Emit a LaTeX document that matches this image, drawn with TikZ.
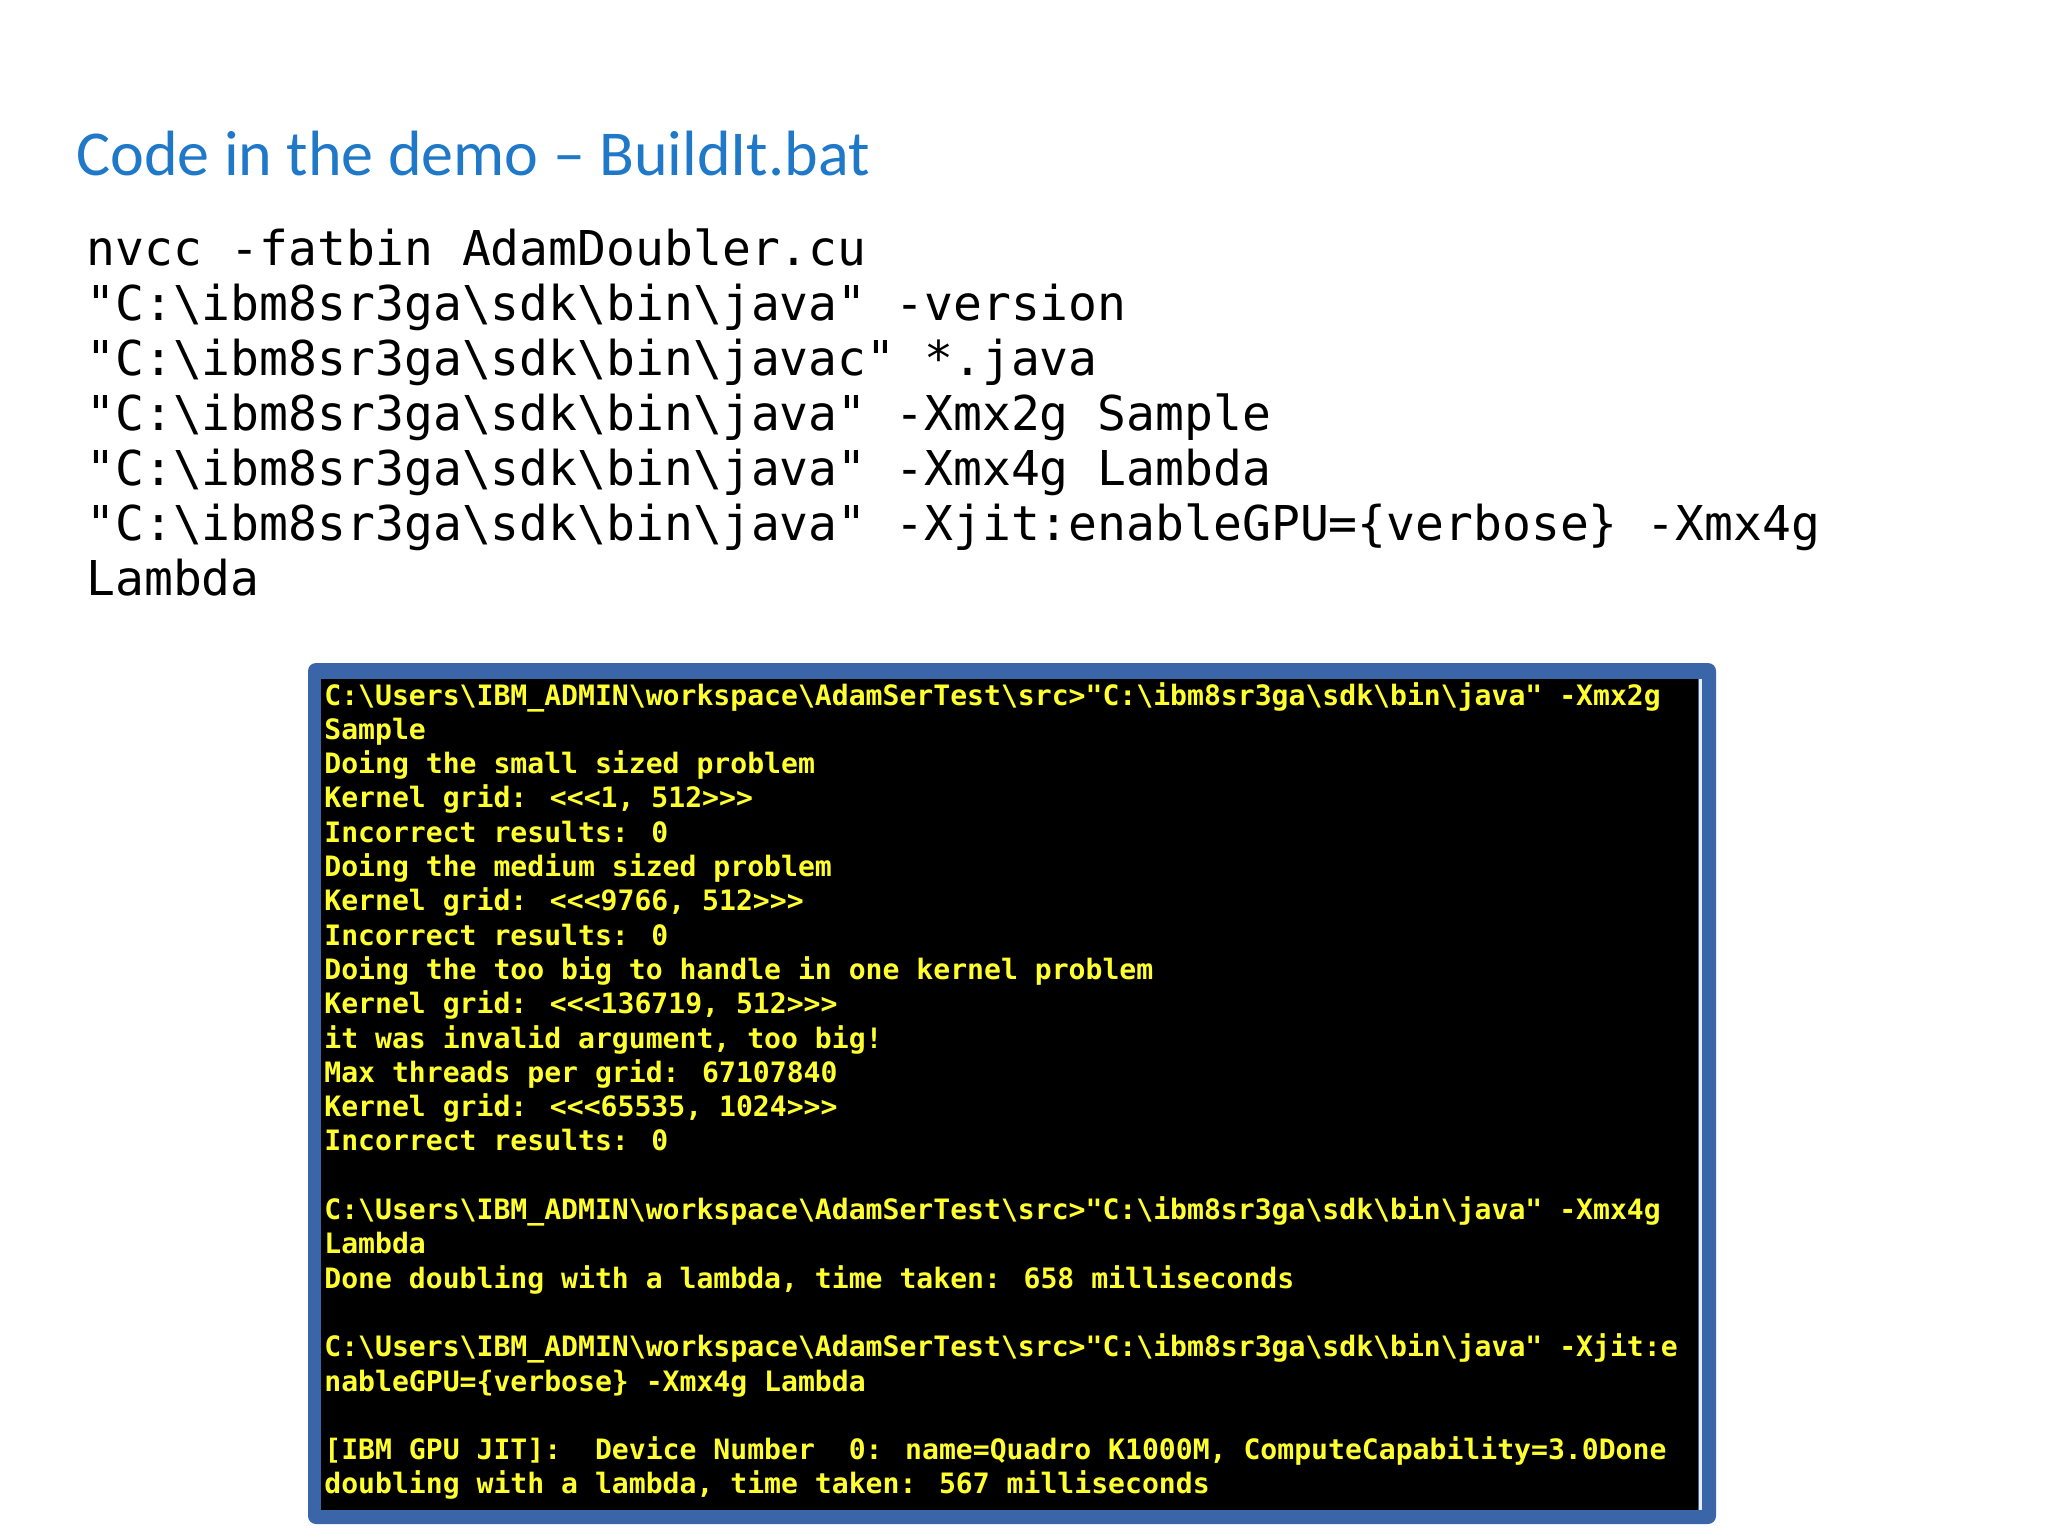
\documentclass[tikz,border=0pt]{standalone}
\usepackage{fontspec}
\setmainfont{Carlito}
\newfontfamily\codefont{DejaVu Sans Mono}
\newfontfamily\termfont{DejaVu Sans Mono}
\definecolor{titleblue}{HTML}{1F78C8}
\definecolor{frameblue}{HTML}{3A65A8}
\definecolor{termyellow}{HTML}{FFFF30}
\newcommand\bs{\textbackslash}
\tikzset{
  codeline/.style={anchor=base west,inner sep=0pt,font=\codefont\fontsize{24}{27}\selectfont,text=black},
  termline/.style={anchor=base west,inner sep=0pt,font=\termfont\bfseries\fontsize{14.05}{17}\selectfont,text=termyellow},
}
\newcommand\cl[2]{\node[codeline] (c#1) at (86,{265+55.1*#1}) {#2};}
\newcommand\tl[2]{\node[termline] (t#1) at (324,{705+34.3*#1}) {#2};}
\begin{document}
\begin{tikzpicture}[x=0.5pt,y=-0.5pt]
\useasboundingbox[fill=white] (0,0) rectangle (2048,1536);
\node[anchor=base west,inner sep=0pt,font=\fontsize{32}{38}\selectfont,text=titleblue] (title) at (76,175) {Code in the demo – BuildIt.bat};
\cl{0}{nvcc -fatbin AdamDoubler.cu}
\cl{1}{"C:\bs ibm8sr3ga\bs sdk\bs bin\bs java" -version}
\cl{2}{"C:\bs ibm8sr3ga\bs sdk\bs bin\bs javac" *.java}
\cl{3}{"C:\bs ibm8sr3ga\bs sdk\bs bin\bs java" -Xmx2g Sample}
\cl{4}{"C:\bs ibm8sr3ga\bs sdk\bs bin\bs java" -Xmx4g Lambda}
\cl{5}{"C:\bs ibm8sr3ga\bs sdk\bs bin\bs java" -Xjit:enableGPU=\{verbose\} -Xmx4g}
\cl{6}{Lambda}
\fill[frameblue,rounded corners=4] (308,663) rectangle (1716,1524);
\fill[black] (321,679) rectangle (1698,1510);
\draw[white!85!gray,line width=1.5] (1700,679) -- (1700,1510);
\tl{0}{C:\bs Users\bs IBM\_ADMIN\bs workspace\bs AdamSerTest\bs src>"C:\bs ibm8sr3ga\bs sdk\bs bin\bs java" -Xmx2g}
\tl{1}{Sample}
\tl{2}{Doing the small sized problem}
\tl{3}{Kernel grid: <<<1, 512>>>}
\tl{4}{Incorrect results: 0}
\tl{5}{Doing the medium sized problem}
\tl{6}{Kernel grid: <<<9766, 512>>>}
\tl{7}{Incorrect results: 0}
\tl{8}{Doing the too big to handle in one kernel problem}
\tl{9}{Kernel grid: <<<136719, 512>>>}
\tl{10}{it was invalid argument, too big!}
\tl{11}{Max threads per grid: 67107840}
\tl{12}{Kernel grid: <<<65535, 1024>>>}
\tl{13}{Incorrect results: 0}
\tl{15}{C:\bs Users\bs IBM\_ADMIN\bs workspace\bs AdamSerTest\bs src>"C:\bs ibm8sr3ga\bs sdk\bs bin\bs java" -Xmx4g}
\tl{16}{Lambda}
\tl{17}{Done doubling with a lambda, time taken: 658 milliseconds}
\tl{19}{C:\bs Users\bs IBM\_ADMIN\bs workspace\bs AdamSerTest\bs src>"C:\bs ibm8sr3ga\bs sdk\bs bin\bs java" -Xjit:e}
\tl{20}{nableGPU=\{verbose\} -Xmx4g Lambda}
\tl{22}{[IBM GPU JIT]:\ \ Device Number\ \ 0: name=Quadro K1000M, ComputeCapability=3.0Done}
\tl{23}{doubling with a lambda, time taken: 567 milliseconds}
\end{tikzpicture}
\end{document}
